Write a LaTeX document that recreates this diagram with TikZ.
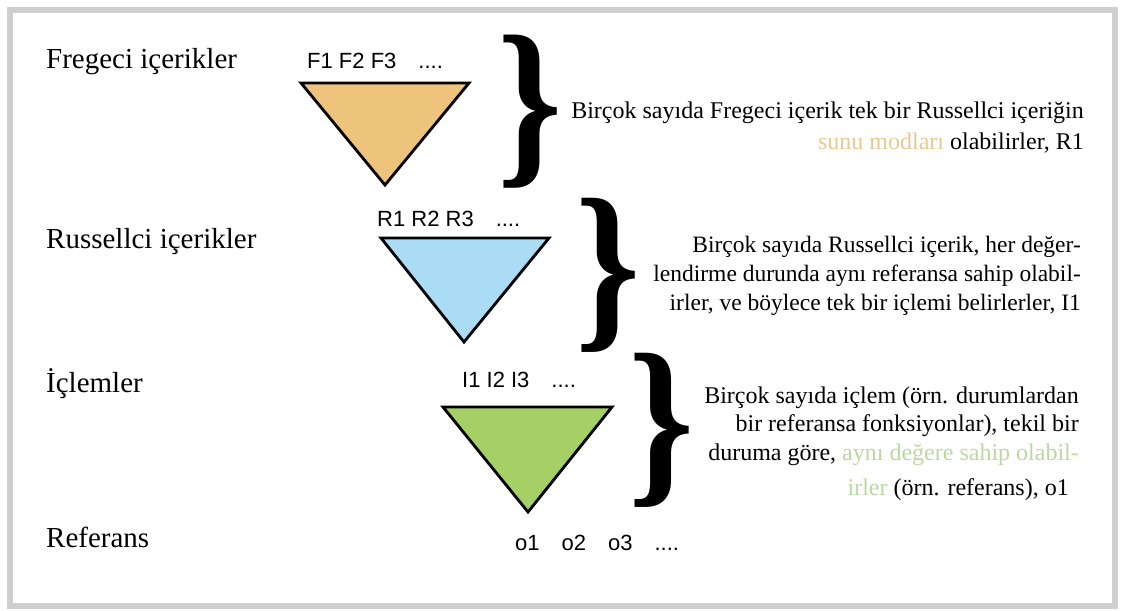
\documentclass[tikz,border=0pt]{standalone}
\usepackage{fontspec}
\setmainfont{Liberation Serif}
\setsansfont{Liberation Sans}
\usetikzlibrary{positioning}
\definecolor{fregefill}{HTML}{EEC47C}
\definecolor{russellfill}{HTML}{AADCF5}
\definecolor{intfill}{HTML}{A6CF66}
\definecolor{fregetext}{HTML}{E8C994}
\definecolor{inttext}{HTML}{B9D9A0}
\definecolor{framegray}{HTML}{CFCFCF}

\begin{document}
\begin{tikzpicture}[
    x=1pt, y=-1pt,
    level/.style={anchor=base west, inner sep=0pt, font=\fontsize{29}{34}\selectfont},
    items/.style={anchor=base west, inner sep=0pt, font=\sffamily\fontsize{22}{26}\selectfont},
    note/.style={anchor=base east, inner sep=0pt, align=right},
    curly/.style={anchor=north west, inner sep=0pt, font=\bfseries},
    tri/.style={draw=black, line width=2.8pt, line join=miter}
]
    \useasboundingbox (0,0) rectangle (1123,610);
    \draw[framegray, line width=6pt] (10,10) rectangle (1115,606);

    % levels on the left
    \node[level] (frege) at (46,68) {Fregeci içerikler};
    \node[level] (russell) at (46,248) {Russellci içerikler};
    \node[level] (intension) at (46,392) {İçlemler};
    \node[level] (referent) at (46,547) {Referans};

    % the three funnels
    \node[items] (fitems) at (307,68) {F1 F2 F3\quad ....};
    \draw[tri, fill=fregefill] (301,83) -- (469,83) -- (385,185) -- cycle;
    \node[items] (ritems) at (377,226) {R1 R2 R3\quad ....};
    \draw[tri, fill=russellfill] (381,238) -- (549,238) -- (464,342) -- cycle;
    \node[items] (iitems) at (462,387) {I1 I2 I3\quad ....};
    \draw[tri, fill=intfill] (443,407) -- (612,407) -- (528,512) -- cycle;
    \node[items] (oitems) at (515,550) {o1\quad o2\quad o3\quad ....};

    % braces
    \node[curly] (fbrace) at (497,35) {\resizebox*{65pt}{153pt}{\}}};
    \node[curly] (rbrace) at (575,198) {\resizebox*{65pt}{154pt}{\}}};
    \node[curly] (ibrace) at (628,353) {\resizebox*{66pt}{154pt}{\}}};

    % notes
    \node[note, font=\fontsize{24}{31}\selectfont] (fnote) at (1084,149)
        {Birçok sayıda Fregeci içerik tek bir Russellci içeriğin\\
         \textcolor{fregetext}{sunu modları} olabilirler, R1};
    \node[note, font=\fontsize{23.5}{29}\selectfont] (rnote) at (1081,310)
        {Birçok sayıda Russellci içerik, her değer-\\
         lendirme durunda aynı referansa sahip olabil-\\
         irler, ve böylece tek bir içlemi belirlerler, I1};
    \node[note, font=\fontsize{24}{28.5}\selectfont] (inote) at (1079,495)
        {Birçok sayıda içlem (örn. durumlardan\\
         bir referansa fonksiyonlar), tekil bir\\
         duruma göre, \textcolor{inttext}{aynı değere sahip olabil-}\\[6.5pt]
         \textcolor{inttext}{irler} (örn. referans), o1\hspace*{10pt}};
\end{tikzpicture}
\end{document}
